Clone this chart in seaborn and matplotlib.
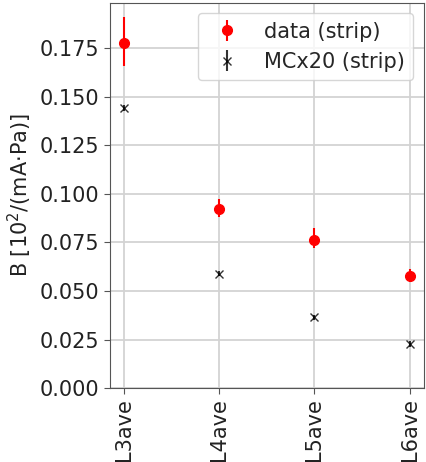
import numpy as np
import matplotlib
matplotlib.use("Agg")
import matplotlib.pyplot as plt
import seaborn as sns

categories = ["L3ave", "L4ave", "L5ave", "L6ave"]
data_vals = [0.178, 0.092, 0.0765, 0.0575]
data_err_lo = [0.012, 0.004, 0.0045, 0.003]
data_err_hi = [0.013, 0.0052, 0.006, 0.004]
mc_vals = [0.1445, 0.059, 0.0365, 0.0225]
mc_err = [0.0015, 0.0012, 0.0012, 0.0015]

sns.set_style("ticks", {"axes.grid": True, "grid.color": "#d3d3d3",
                        "axes.edgecolor": "#555555", "grid.linestyle": "-"})
plt.rcParams["font.family"] = ["DejaVu Sans"]
plt.rcParams["font.size"] = 15

fig = plt.figure(figsize=(4.26, 4.62), dpi=100)
ax = fig.add_axes([0.258, 0.16, 0.737, 0.834])

x = np.arange(len(categories))
ax.errorbar(x, data_vals, yerr=[data_err_lo, data_err_hi], fmt="o", color="red",
            markersize=7, elinewidth=1.5, label="data (strip)")
ax.errorbar(x, mc_vals, yerr=mc_err, fmt="x", color="black", alpha=0.8,
            markersize=6, elinewidth=1.5, label="MCx20 (strip)")

ax.set_xticks(x)
ax.set_xticklabels(categories, rotation=90, fontsize=15)
ax.tick_params(axis="y", labelsize=15, length=4, color="#555555", labelcolor="#222222")
ax.tick_params(axis="x", length=4, color="#555555", labelcolor="#222222")
ax.set_xlim(-0.15, 3.15)
ax.set_ylim(0.0, 0.1985)
ax.set_yticks(np.arange(0, 0.176, 0.025))
ax.set_ylabel("B [10$^2$/(mA$\\cdot$Pa)]", fontsize=15, color="#222222")
ax.grid(True, color="#d3d3d3", linewidth=1.3)
ax.legend(loc="upper right", fontsize=15, framealpha=0.8)

fig.savefig("out.png", dpi=100)
